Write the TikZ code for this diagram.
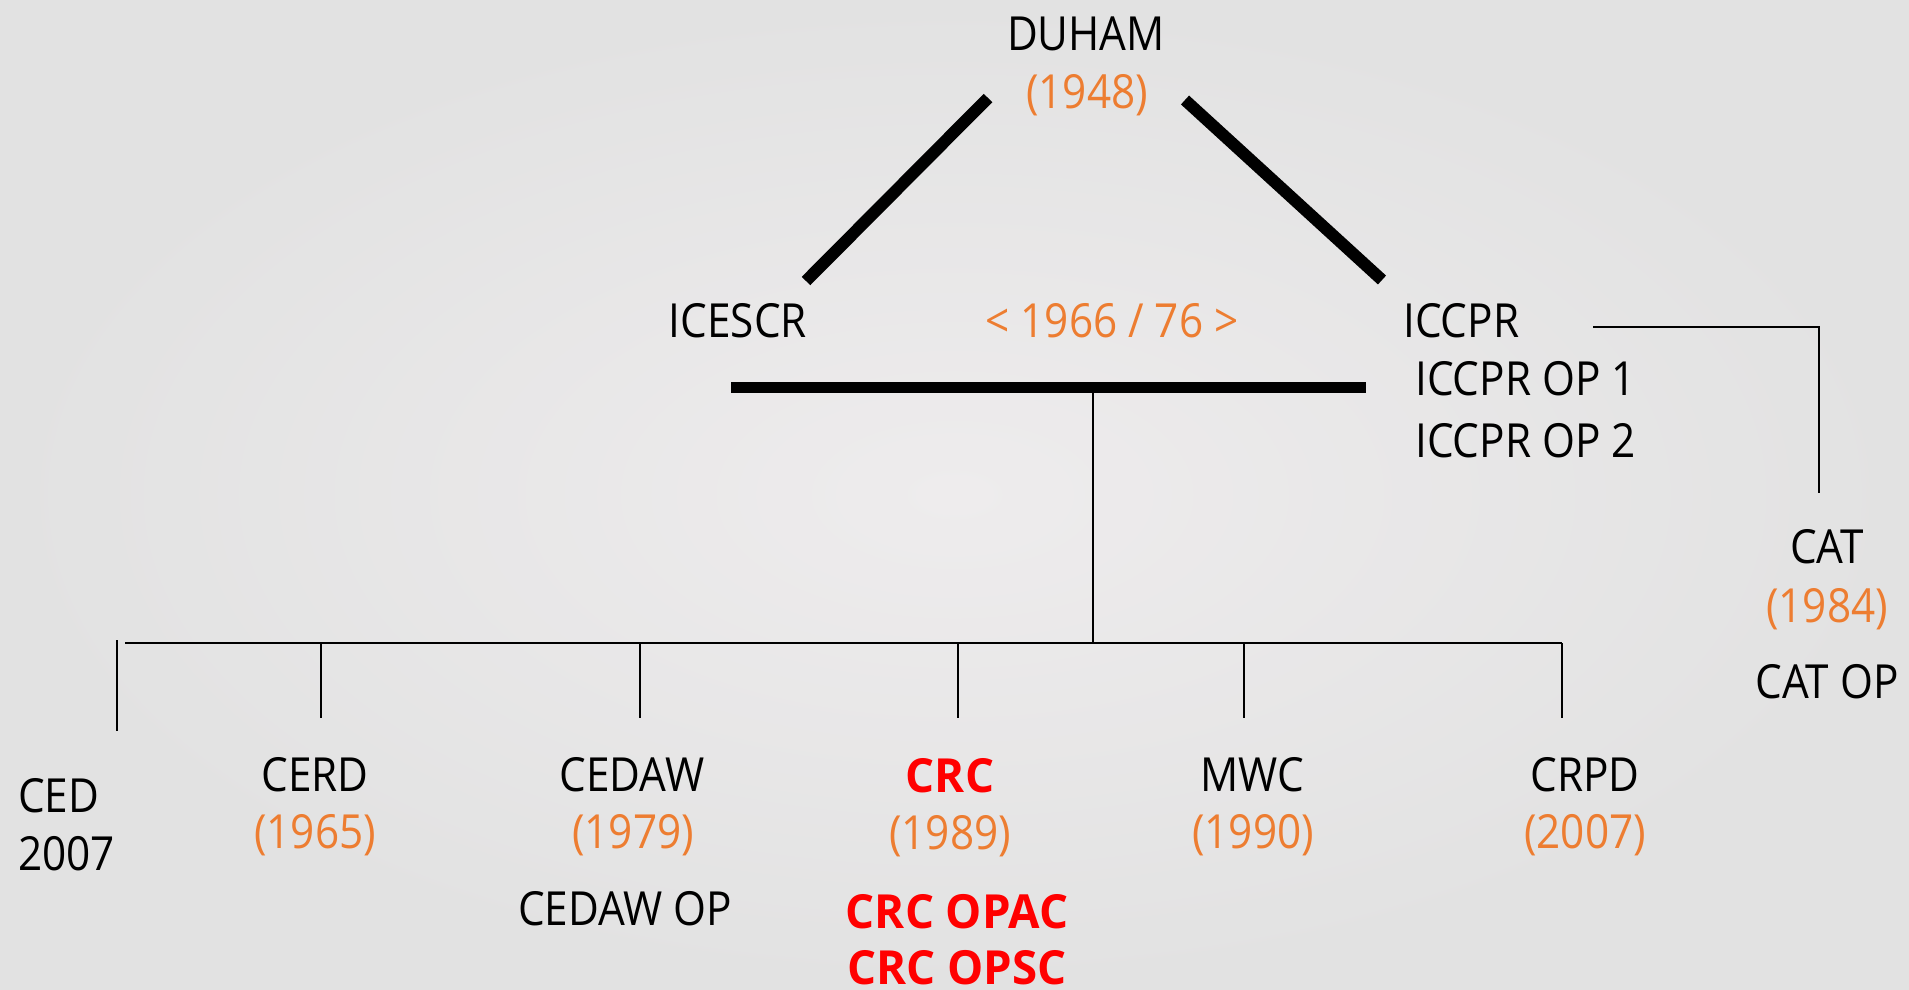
\documentclass[tikz,border=0pt]{standalone}
\usepackage{fontspec}
\setmainfont{Open Sans}[FakeStretch=0.9,BoldFeatures={FakeStretch=0.97}]
\definecolor{org}{HTML}{ED7D31}
\definecolor{bgin}{HTML}{EEECED}
\definecolor{bgout}{HTML}{E2E2E2}
\definecolor{crcred}{HTML}{FF0000}
\begin{document}
\begin{tikzpicture}[x=1pt,y=-1pt,
  lbl/.style={anchor=base,inner sep=0pt,font=\fontsize{47}{56}\selectfont},
  lblw/.style={lbl,anchor=base west},
  yr/.style={lbl,text=org},
  crcstyle/.style={lbl,text=crcred,font=\fontsize{47}{56}\selectfont\bfseries},
  thick line/.style={line width=12pt},
  bar line/.style={line width=11pt},
  thin line/.style={line width=2.2pt}]
\useasboundingbox (0,0) rectangle (1909,989);
\shade[inner color=bgin,outer color=bgout] (0,0) rectangle (1909,989);
% top
\node[lbl] (duham) at (1086,50) {DUHAM};
\node[yr] (y1948) at (1087,108) {(1948)};
\node[lbl] (icescr) at (738,337) {ICESCR};
\node[yr] (y1966) at (1112,337) {< 1966 / 76 >};
\node[lblw] (iccpr) at (1403,337) {ICCPR};
\node[lblw] (op1) at (1415,395) {ICCPR OP 1};
\node[lblw] (op2) at (1415,457) {ICCPR OP 2};
% CAT
\node[lbl] (cat) at (1827,563) {CAT};
\node[yr] (y1984) at (1827,622) {(1984)};
\node[lbl] (catop) at (1827,698) {CAT OP};
% bottom
\node[lblw] (ced) at (18,812) {CED};
\node[lblw] (ced2007) at (18,870) {2007};
\node[lbl] (cerd) at (315,791) {CERD};
\node[yr] (y1965) at (315,848) {(1965)};
\node[lbl] (cedaw) at (632,791) {CEDAW};
\node[yr] (y1979) at (633,848) {(1979)};
\node[lbl] (cedawop) at (625,925) {CEDAW OP};
\node[crcstyle] (crc) at (950,792) {CRC};
\node[yr] (y1989) at (950,849) {(1989)};
\node[crcstyle] (opac) at (957,928) {CRC OPAC};
\node[crcstyle] (opsc) at (957,984) {CRC OPSC};
\node[lbl] (mwc) at (1252,791) {MWC};
\node[yr] (y1990) at (1253,848) {(1990)};
\node[lbl] (crpd) at (1585,791) {CRPD};
\node[yr] (y2007) at (1585,848) {(2007)};
% connector coordinates
\coordinate (l1) at (988,98);
\coordinate (l2) at (806,281);
\coordinate (r1) at (1185,100);
\coordinate (r2) at (1382,280);
\coordinate (barL) at (731,387);
\coordinate (barR) at (1366,387);
\coordinate (barM) at (1093,392);
\coordinate (busM) at (1093,643);
\coordinate (busL) at (125,643);
\coordinate (busR) at (1562,643);
\coordinate (cedT) at (117,640);
\coordinate (cedB) at (117,731);
\coordinate (catA) at (1593,327);
\coordinate (catB) at (1819,327);
\coordinate (catC) at (1819,493);
\draw[thick line] (l1) -- (l2);
\draw[thick line] (r1) -- (r2);
\draw[bar line] (barL) -- (barR);
\draw[thin line] (barM) -- (busM);
\draw[thin line] (busL) -- (busR);
\draw[thin line] (cedT) -- (cedB);
\foreach \nm/\xx in {cerdd/321,cedawd/640,crcd/958,mwcd/1244,crpdd/1562}{
  \coordinate (\nm T) at (\xx,643);
  \coordinate (\nm B) at (\xx,718);
  \draw[thin line] (\nm T) -- (\nm B);
}
\draw[thin line] (catA) -- (catB) -- (catC);
\end{tikzpicture}
\end{document}
